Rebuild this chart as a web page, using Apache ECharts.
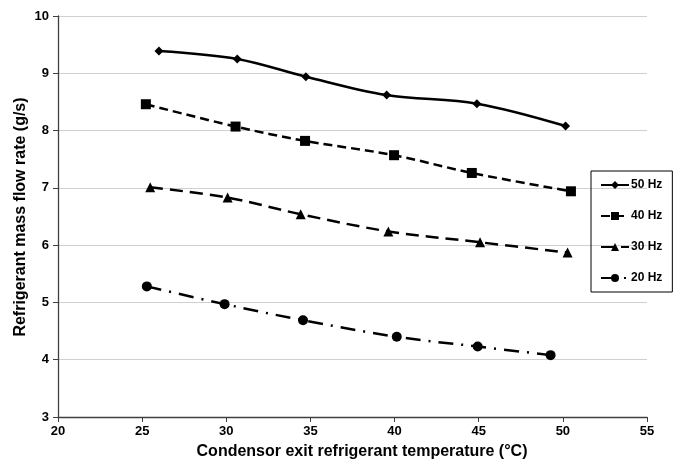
<!DOCTYPE html>
<html><head><meta charset="utf-8">
<script src="https://cdn.jsdelivr.net/npm/echarts@6/dist/echarts.min.js"></script>
<style>html,body{margin:0;padding:0;background:#fff}#c{width:681px;height:466px}</style>
</head><body><div id="c"></div>
<script>
const seriesNames = ['50 Hz','40 Hz','30 Hz','20 Hz'];
const x50 = [26.0, 30.65, 34.73, 39.53, 44.89, 50.16];
const y50 = [9.39, 9.25, 8.94, 8.62, 8.47, 8.08];
const x40 = [25.22, 30.55, 34.68, 39.97, 44.59, 50.48];
const y40 = [8.46, 8.07, 7.82, 7.57, 7.26, 6.94];
const x30 = [25.48, 30.08, 34.42, 39.63, 45.08, 50.28];
const y30 = [7.01, 6.83, 6.54, 6.24, 6.05, 5.87];
const x20 = [25.28, 29.9, 34.56, 40.13, 44.94, 49.27];
const y20 = [5.28, 4.97, 4.69, 4.40, 4.23, 4.08];
const xTitle = 'Condensor exit refrigerant temperature (°C)';
const yTitle = 'Refrigerant mass flow rate (g/s)';

const zip = (a,b) => a.map((v,i)=>[v,b[i]]);
const font = '"Liberation Sans", Arial, sans-serif';
const chart = echarts.init(document.getElementById('c'), null, {renderer:'canvas'});
const mk = (name, xs, ys, symbol, size, dash) => ({
  name, type:'line', data: zip(xs, ys), symbol, symbolSize:size, smooth:0.35,
  itemStyle:{color:'#000'}, lineStyle:{color:'#000', width:2.5, type:dash, cap:'butt'},
  emphasis:{disabled:true}
});
chart.setOption({
  animation:false,
  backgroundColor:'#fff',
  grid:{left:58, right:34, top:16, bottom:49},
  xAxis:{type:'value', min:20, max:55, interval:5,
    axisLine:{lineStyle:{color:'#404040', width:1.3}},
    axisTick:{show:true, length:5, lineStyle:{color:'#404040'}},
    axisLabel:{color:'#000', fontFamily:font, fontWeight:'bold', fontSize:13, margin:8},
    splitLine:{show:false}},
  yAxis:{type:'value', min:3, max:10, interval:1,
    axisLine:{show:true, lineStyle:{color:'#404040', width:1.3}},
    axisTick:{show:true, length:5, lineStyle:{color:'#404040'}},
    axisLabel:{color:'#000', fontFamily:font, fontWeight:'bold', fontSize:13, margin:9},
    splitLine:{show:true, lineStyle:{color:'#cfcfcf', width:1}}},
  legend:{orient:'vertical', left:591, top:171,
    borderColor:'#000', borderWidth:1, padding:[8,10,8,9], itemGap:19,
    itemWidth:28, itemHeight:10,
    textStyle:{fontFamily:font, fontWeight:'bold', fontSize:12, color:'#000', padding:[0,0,0,-3]},
    data: seriesNames},
  graphic:[
    {type:'text', x:362, y:452, style:{text:xTitle, align:'center', verticalAlign:'middle', font:'bold 16px '+font, fill:'#000'}},
    {type:'text', rotation:Math.PI/2, x:21, y:217, style:{text:yTitle, align:'center', verticalAlign:'middle', font:'bold 16px '+font, fill:'#000'}}
  ],
  series:[
    mk(seriesNames[0], x50, y50, 'diamond', 9, 'solid'),
    mk(seriesNames[1], x40, y40, 'rect', 10, [9,5]),
    mk(seriesNames[2], x30, y30, 'triangle', 10, [13,7]),
    mk(seriesNames[3], x20, y20, 'circle', 10, [15,8,2,8])
  ]
});
</script></body></html>
